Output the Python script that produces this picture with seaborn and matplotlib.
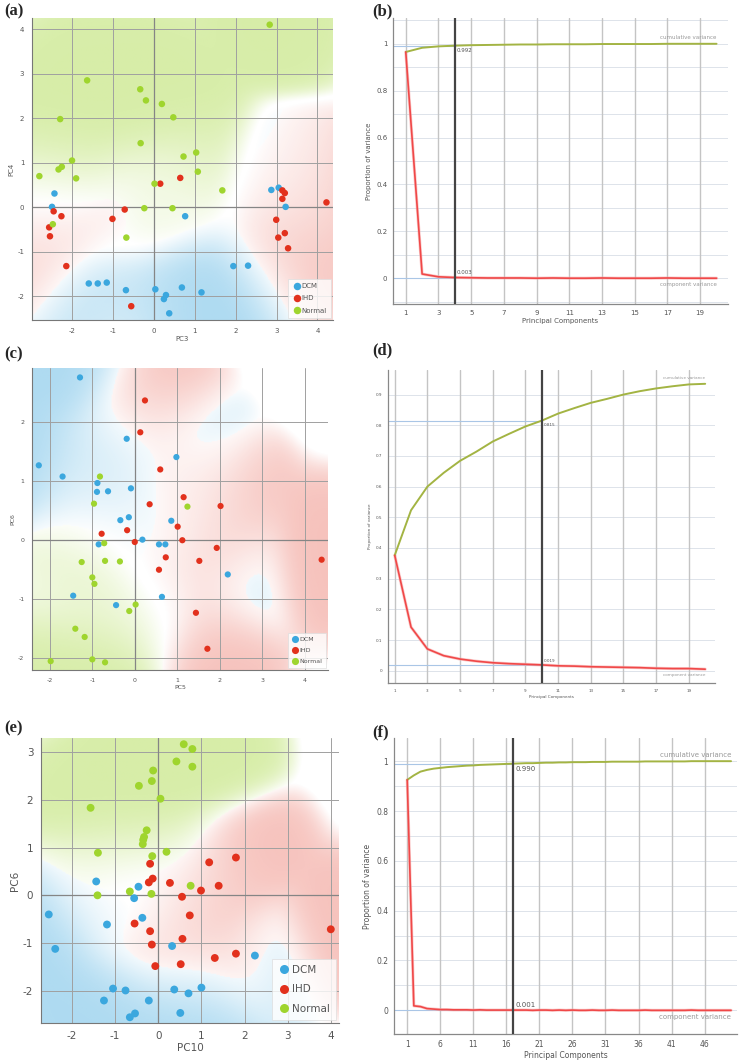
import numpy as np
import pandas as pd
import matplotlib
matplotlib.use('Agg')
import matplotlib.pyplot as plt
import seaborn as sns
from matplotlib.colors import to_rgb

# class colours
classes = ['DCM', 'IHD', 'Normal']
palette = {'DCM': '#3ba7de', 'IHD': '#e2311d', 'Normal': '#9fd52e'}
region_alpha = {'DCM': 0.42, 'IHD': 0.30, 'Normal': 0.42}

# ---- panel (a): PC3 vs PC4 ----
a_dcm_x = [-2.44, -2.50, 0.76, 2.87, 3.05, 3.22, 1.94, 2.30, -1.60, -1.38, -1.16, -0.69, 0.03, 0.68, 1.16, 0.29, 0.24, 0.37]
a_dcm_y = [0.31, 0.01, -0.20, 0.39, 0.44, 0.01, -1.32, -1.31, -1.71, -1.71, -1.69, -1.86, -1.84, -1.80, -1.91, -1.97, -2.06, -2.38]
a_ihd_x = [0.15, 0.64, -2.46, -2.27, -2.57, -2.55, -2.15, -1.02, -0.72, -0.56, 3.14, 3.20, 3.14, 4.22, 2.99, 3.04, 3.20, 3.28]
a_ihd_y = [0.53, 0.66, -0.09, -0.20, -0.45, -0.65, -1.32, -0.26, -0.05, -2.22, 0.38, 0.32, 0.19, 0.11, -0.28, -0.68, -0.58, -0.92]
a_nor_x = [2.83, -1.64, -0.34, -0.20, 0.19, -2.30, 0.47, -0.33, 1.03, 0.72, -2.01, -2.26, -2.34, -2.81, -1.91, 1.07, 0.01, 1.67, -0.24, 0.45, -2.48, -0.68]
a_nor_y = [4.10, 2.85, 2.65, 2.40, 2.32, 1.98, 2.02, 1.44, 1.23, 1.14, 1.05, 0.91, 0.85, 0.70, 0.65, 0.80, 0.53, 0.38, -0.02, -0.02, -0.38, -0.68]

# ---- panel (c): PC5 vs PC6 ----
c_dcm_x = [-1.29, -0.19, 0.98, -2.26, -1.70, -0.88, -0.89, -0.63, -0.09, -0.14, -0.34, 0.86, 0.18, -0.85, 0.57, 0.72, 2.19, -1.45, 0.64, -0.44]
c_dcm_y = [2.76, 1.72, 1.41, 1.27, 1.08, 0.97, 0.82, 0.83, 0.88, 0.39, 0.34, 0.33, 0.01, -0.07, -0.07, -0.07, -0.58, -0.94, -0.96, -1.10]
c_ihd_x = [0.24, 0.13, 0.60, 1.15, 0.35, 2.02, 1.01, -0.18, -0.78, 0.00, 1.12, 1.93, 0.73, 1.52, 4.40, 0.57, 1.44, 1.71]
c_ihd_y = [2.37, 1.83, 1.20, 0.73, 0.61, 0.58, 0.23, 0.17, 0.11, -0.03, 0.00, -0.13, -0.29, -0.35, -0.33, -0.50, -1.23, -1.84]
c_nor_x = [-0.82, -0.96, 1.24, -0.72, -1.25, -0.70, -0.35, -1.00, -0.95, 0.02, -0.13, -1.40, -1.18, -1.98, -1.00, -0.70]
c_nor_y = [1.08, 0.62, 0.57, -0.05, -0.37, -0.35, -0.36, -0.63, -0.74, -1.09, -1.20, -1.50, -1.64, -2.05, -2.02, -2.07]

# ---- panel (e): PC10 vs PC6 ----
e_dcm_x = [-1.44, -0.46, -0.56, -0.37, -2.54, -1.19, -2.39, 0.32, 2.24, -1.05, -0.76, -1.26, -0.22, 0.37, 0.70, 1.00, -0.66, -0.54, 0.51]
e_dcm_y = [0.29, 0.18, -0.06, -0.47, -0.40, -0.61, -1.12, -1.06, -1.26, -1.95, -1.99, -2.20, -2.20, -1.97, -2.05, -1.93, -2.55, -2.47, -2.46]
e_ihd_x = [1.80, 1.18, -0.19, -0.13, -0.22, 0.27, 1.40, 0.99, 0.55, 0.73, -0.55, -0.19, -0.15, 0.56, 4.00, 1.31, 1.80, -0.07, 0.52]
e_ihd_y = [0.79, 0.69, 0.66, 0.35, 0.27, 0.26, 0.20, 0.10, -0.03, -0.42, -0.59, -0.75, -1.03, -0.91, -0.71, -1.31, -1.22, -1.48, -1.44]
e_nor_x = [0.59, 0.79, 0.79, 0.42, -0.12, -0.15, -0.45, 0.05, -1.57, -0.27, -0.33, -0.35, -0.36, -1.40, 0.19, -0.14, -0.66, -0.16, -1.41, 0.75]
e_nor_y = [3.16, 3.06, 2.69, 2.80, 2.61, 2.39, 2.29, 2.02, 1.83, 1.36, 1.22, 1.16, 1.07, 0.89, 0.91, 0.82, 0.08, 0.03, 0.00, 0.20]

# ---- variance explained ----
b_pc = [1, 2, 3, 4, 5, 6, 7, 8, 9, 10, 11, 12, 13, 14, 15, 16, 17, 18, 19, 20]
b_cum = [0.965, 0.983, 0.989, 0.992, 0.994, 0.995, 0.996, 0.997, 0.997, 0.998,
         0.998, 0.998, 0.999, 0.999, 0.999, 0.999, 1.000, 1.000, 1.000, 1.000]
b_comp = [0.965, 0.018, 0.006, 0.003, 0.002, 0.001, 0.001, 0.001, 0.000, 0.001,
          0.000, 0.000, 0.001, 0.000, 0.000, 0.000, 0.001, 0.000, 0.000, 0.000]

d_pc = [1, 2, 3, 4, 5, 6, 7, 8, 9, 10, 11, 12, 13, 14, 15, 16, 17, 18, 19, 20]
d_cum = [0.376, 0.523, 0.600, 0.645, 0.684, 0.714, 0.747, 0.772, 0.796, 0.815,
         0.838, 0.856, 0.873, 0.886, 0.900, 0.911, 0.920, 0.927, 0.933, 0.935]
d_comp = [0.376, 0.142, 0.071, 0.049, 0.038, 0.031, 0.026, 0.023, 0.021, 0.019,
          0.016, 0.015, 0.013, 0.012, 0.011, 0.010, 0.008, 0.007, 0.007, 0.005]

f_pc = list(range(1, 51))
f_cum = [0.925, 0.943, 0.958, 0.965, 0.970, 0.973, 0.976, 0.978, 0.980, 0.982,
         0.983, 0.985, 0.986, 0.987, 0.988, 0.989, 0.990, 0.991, 0.992, 0.992,
         0.993, 0.994, 0.994, 0.995, 0.995, 0.996, 0.996, 0.996, 0.997, 0.997,
         0.997, 0.998, 0.998, 0.998, 0.998, 0.998, 0.999, 0.999, 0.999, 0.999,
         0.999, 0.999, 0.999, 1.000, 1.000, 1.000, 1.000, 1.000, 1.000, 1.000]
f_comp = [0.925, 0.018, 0.015, 0.007, 0.005, 0.003, 0.003, 0.002, 0.002, 0.002,
          0.001, 0.002, 0.001, 0.001, 0.001, 0.001, 0.001, 0.001, 0.001, 0.000,
          0.001, 0.001, 0.000, 0.001, 0.000, 0.001, 0.000, 0.000, 0.001, 0.000,
          0.000, 0.001, 0.000, 0.000, 0.000, 0.000, 0.001, 0.000, 0.000, 0.000,
          0.000, 0.000, 0.000, 0.001, 0.000, 0.000, 0.000, 0.000, 0.000, 0.000]

CUM_COL = '#a3b443'
COMP_COL = '#f04848'
W, H = 749, 1062


def rect(l, t, r, b):
    return [l / W, 1 - b / H, (r - l) / W, (b - t) / H]


def make_df(dx, dy, ix, iy, nx, ny):
    parts = []
    for g, xs, ys in [('DCM', dx, dy), ('IHD', ix, iy), ('Normal', nx, ny)]:
        parts.append(pd.DataFrame({'x': xs, 'y': ys, 'group': g}))
    return pd.concat(parts, ignore_index=True)


def color_regions(ax, df, xlim, ylim, sigma=0.10):
    # smoothed class probability map, like Orange's "show color regions"
    gx = np.linspace(xlim[0], xlim[1], 260)
    gy = np.linspace(ylim[0], ylim[1], 260)
    X, Y = np.meshgrid(gx, gy)
    sx, sy = xlim[1] - xlim[0], ylim[1] - ylim[0]
    dens = []
    for c in classes:
        sub = df[df['group'] == c]
        ddx = (X[..., None] - sub['x'].values) / sx
        ddy = (Y[..., None] - sub['y'].values) / sy
        dens.append(np.exp(-(ddx ** 2 + ddy ** 2) / (2 * sigma ** 2)).sum(-1))
    dens = np.stack(dens)
    p = dens / (dens.sum(0) + 0.004)
    best = p.argmax(0)
    strength = np.clip((p.max(0) - 0.36) / 0.64, 0, 1) ** 1.1
    rgb = np.array([to_rgb(palette[c]) for c in classes])[best]
    amax = np.array([region_alpha[c] for c in classes])[best]
    img = np.dstack([rgb, strength * amax])
    ax.imshow(img, extent=[xlim[0], xlim[1], ylim[0], ylim[1]], origin='lower',
              aspect='auto', interpolation='bilinear', zorder=0)


def scatter_panel(ax, df, xlim, ylim, ticks_x, ticks_y, xlabel, ylabel, s, fs, lfs):
    color_regions(ax, df, xlim, ylim)
    sns.scatterplot(data=df, x='x', y='y', hue='group', hue_order=classes,
                    palette=palette, s=s, edgecolor='none', linewidth=0, ax=ax, zorder=3)
    ax.set_xlim(xlim)
    ax.set_ylim(ylim)
    ax.set_xticks(ticks_x)
    ax.set_yticks(ticks_y)
    ax.set_axisbelow(True)
    ax.grid(True, color='#a0a0a0', lw=0.7)
    ax.axhline(0, color='#858585', lw=0.9, zorder=0.6)
    ax.axvline(0, color='#858585', lw=0.9, zorder=0.6)
    for sp in ['top', 'right']:
        ax.spines[sp].set_visible(False)
    for sp in ['left', 'bottom']:
        ax.spines[sp].set_color('#777777')
        ax.spines[sp].set_linewidth(0.8)
    ax.tick_params(labelsize=fs, colors='#777777', labelcolor='#555555', length=2, width=0.6)
    ax.set_xlabel(xlabel, fontsize=fs, color='#555555', labelpad=2)
    ax.set_ylabel(ylabel, fontsize=fs, color='#555555', labelpad=2)
    h, l = ax.get_legend_handles_labels()
    leg = ax.legend(h, l, loc='lower right', fontsize=lfs, frameon=True, fancybox=False,
                    handletextpad=0.1, borderpad=0.6, labelspacing=0.9, markerscale=1.15,
                    handlelength=1.2, borderaxespad=0.3)
    leg.get_frame().set_edgecolor('#dddddd')
    leg.get_frame().set_linewidth(0.6)
    for t in leg.get_texts():
        t.set_color('#555555')


def variance_panel(ax, pcs, cum, comp, sel, xticks, xlim, ylim, yticks, ylabels, fs, afs):
    sns.lineplot(x=pcs, y=cum, color=CUM_COL, lw=1.4, ax=ax, zorder=3)
    sns.lineplot(x=pcs, y=comp, color='#f7a8a8', lw=2.2, ax=ax, zorder=2, alpha=0.6)
    sns.lineplot(x=pcs, y=comp, color=COMP_COL, lw=1.2, ax=ax, zorder=3)
    i = pcs.index(sel)
    ax.hlines([cum[i], comp[i]], xlim[0], sel, color='#aac6e6', lw=0.8, zorder=1.5)
    ax.axvline(sel, color='#444444', lw=1.6, zorder=4)
    ax.annotate(f'{cum[i]:.3f}', (sel, cum[i]), xytext=(1.5, -2), textcoords='offset points',
                fontsize=afs, color='#555555', va='top', ha='left')
    ax.annotate(f'{comp[i]:.3f}', (sel, comp[i]), xytext=(1.5, 1.5), textcoords='offset points',
                fontsize=afs, color='#555555', va='bottom', ha='left')
    ax.annotate('cumulative variance', (pcs[-1], cum[-1]), xytext=(0, 2.5), textcoords='offset points',
                fontsize=afs, color='#999999', va='bottom', ha='right')
    ax.annotate('component variance', (pcs[-1], comp[-1]), xytext=(0, -2.5), textcoords='offset points',
                fontsize=afs, color='#999999', va='top', ha='right')
    ax.set_xlim(xlim)
    ax.set_ylim(ylim)
    ax.set_xticks(xticks)
    ax.set_yticks(yticks)
    ax.set_yticklabels(ylabels)
    ax.set_axisbelow(True)
    ax.grid(True, axis='x', color='#c4c4c4', lw=1.0)
    for v in np.arange(-0.1, 1.11, 0.1):
        ax.axhline(v, color='#dde3ea', lw=0.7, zorder=0.5)
    for sp in ['top', 'right']:
        ax.spines[sp].set_visible(False)
    for sp in ['left', 'bottom']:
        ax.spines[sp].set_color('#888888')
        ax.spines[sp].set_linewidth(0.9)
    ax.tick_params(labelsize=fs, colors='#888888', labelcolor='#555555', length=2, width=0.6, pad=2)
    ax.set_xlabel('Principal Components', fontsize=fs, color='#555555', labelpad=1.5)
    ax.set_ylabel('Proportion of variance', fontsize=fs, color='#555555', labelpad=3)


sns.set_theme(style='white')
plt.rcParams['font.family'] = ['DejaVu Sans']
plt.rcParams['axes.unicode_minus'] = False

fig = plt.figure(figsize=(W / 100, H / 100), dpi=100)
fig.patch.set_facecolor('white')

df_a = make_df(a_dcm_x, a_dcm_y, a_ihd_x, a_ihd_y, a_nor_x, a_nor_y)
df_c = make_df(c_dcm_x, c_dcm_y, c_ihd_x, c_ihd_y, c_nor_x, c_nor_y)
df_e = make_df(e_dcm_x, e_dcm_y, e_ihd_x, e_ihd_y, e_nor_x, e_nor_y)

ax_a = fig.add_axes(rect(32, 18, 333, 320))
scatter_panel(ax_a, df_a, (-2.99, 4.38), (-2.53, 4.25), [-2, -1, 0, 1, 2, 3, 4],
              [-2, -1, 0, 1, 2, 3, 4], 'PC3', 'PC4', 22, 5, 5)

ax_c = fig.add_axes(rect(32, 368, 328, 670))
scatter_panel(ax_c, df_c, (-2.42, 4.55), (-2.2, 2.92), [-2, -1, 0, 1, 2, 3, 4],
              [-2, -1, 0, 1, 2], 'PC5', 'PC6', 20, 4.5, 4.5)

ax_e = fig.add_axes(rect(41, 738, 339, 1023))
scatter_panel(ax_e, df_e, (-2.72, 4.19), (-2.67, 3.29), [-2, -1, 0, 1, 2, 3, 4],
              [-2, -1, 0, 1, 2, 3], 'PC10', 'PC6', 32, 7.5, 7.5)

yt = [0, 0.2, 0.4, 0.6, 0.8, 1.0]
yl = ['0', '0.2', '0.4', '0.6', '0.8', '1']
ax_b = fig.add_axes(rect(393, 18, 728, 304))
variance_panel(ax_b, b_pc, b_cum, b_comp, 4, [1, 3, 5, 7, 9, 11, 13, 15, 17, 19],
               (0.22, 20.7), (-0.11, 1.11), yt, yl, 5, 4)

ax_d = fig.add_axes(rect(388, 370, 715, 683))
variance_panel(ax_d, d_pc, d_cum, d_comp, 10, [1, 3, 5, 7, 9, 11, 13, 15, 17, 19],
               (0.59, 20.6), (-0.04, 0.98),
               [0, 0.1, 0.2, 0.3, 0.4, 0.5, 0.6, 0.7, 0.8, 0.9],
               ['0', '0.1', '0.2', '0.3', '0.4', '0.5', '0.6', '0.7', '0.8', '0.9'], 3, 3)

ax_f = fig.add_axes(rect(394, 738, 737, 1034))
variance_panel(ax_f, f_pc, f_cum, f_comp, 17, [1, 6, 11, 16, 21, 26, 31, 36, 41, 46],
               (-1.0, 50.9), (-0.095, 1.093), yt, yl, 5.5, 5)

for lab, x, y in [('(a)', 4, 3), ('(b)', 372, 3), ('(c)', 4, 346),
                  ('(d)', 372, 342), ('(e)', 4, 720), ('(f)', 372, 724)]:
    fig.text(x / W, 1 - y / H, lab, ha='left', va='top', fontsize=12,
             fontweight='bold', family='Liberation Serif')

fig.savefig('out.png', dpi=100)
